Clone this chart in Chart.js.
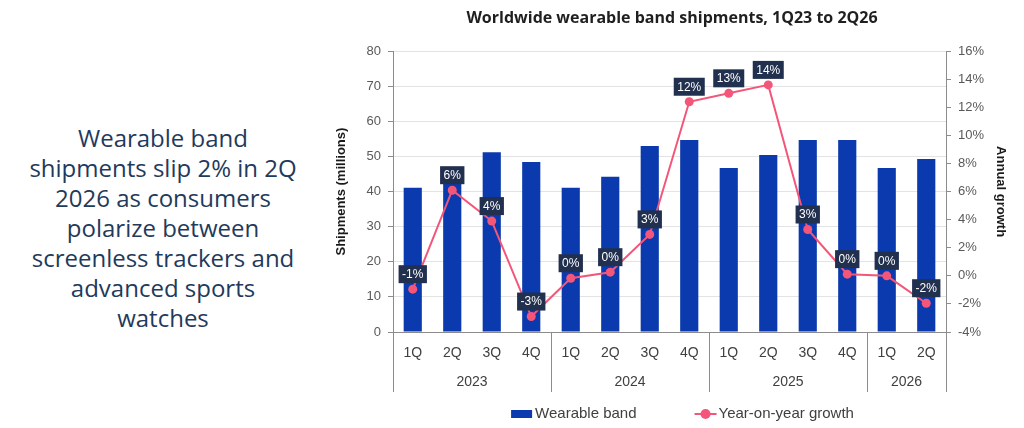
<!DOCTYPE html>
<html><head><meta charset="utf-8">
<script src="https://cdn.jsdelivr.net/npm/chart.js@4.4.1/dist/chart.umd.min.js"></script>
<style>
html,body{margin:0;padding:0;background:#fff;width:1024px;height:428px;overflow:hidden;}
#lead{position:absolute;left:8px;top:123px;width:310px;text-align:center;font-family:'Open Sans';font-size:24px;line-height:30px;color:#1f3a5c;}
#wrap{position:absolute;left:320px;top:0;width:704px;height:428px;}
</style></head><body>
<div id="lead">Wearable band<br>shipments slip 2% in 2Q<br>2026 as consumers<br>polarize between<br>screenless trackers and<br>advanced sports<br>watches</div>
<div id="wrap"><canvas id="c" width="704" height="428"></canvas></div>
<script>
const quarters = ['1Q','2Q','3Q','4Q','1Q','2Q','3Q','4Q','1Q','2Q','3Q','4Q','1Q','2Q'];
const years = ['2023','2024','2025','2026'];
const quartersPerYear = [4,4,4,2];
const shipments = [41.1,44.2,51.2,48.4,41.1,44.2,53.0,54.7,46.7,50.4,54.7,54.7,46.7,49.3];
const yoyGrowth = [-0.95,6.1,3.9,-2.9,-0.17,0.26,2.95,12.4,13.0,13.6,3.3,0.12,0.0,-1.95];

const BAR = '#0a3aad', LINE = '#f4567a', AXIS = '#8c8c8c';
const deco = {
  id:'deco',
  afterDatasetsDraw(chart){
    const ctx = chart.ctx;
    const meta = chart.getDatasetMeta(1);
    ctx.save();
    ctx.font = '12px "Liberation Sans"';
    ctx.textAlign = 'center'; ctx.textBaseline = 'middle';
    meta.data.forEach((pt,i)=>{
      const txt = Math.round(yoyGrowth[i]) + '%';
      const w = ctx.measureText(txt).width + 7, h = 18;
      const cx = pt.x, cy = pt.y - 15;
      ctx.fillStyle = '#22304f';
      ctx.fillRect(cx - w/2, cy - h/2, w, h);
      ctx.fillStyle = '#ffffff';
      ctx.fillText(txt, cx, cy + 0.5);
    });
    ctx.restore();
  },
  afterDraw(chart){
    const ctx = chart.ctx, xs = chart.scales.x, ca = chart.chartArea;
    ctx.save();
    let idx = 0;
    const bounds = [ca.left];
    quartersPerYear.forEach(n=>{
      idx += n;
      bounds.push(idx >= quarters.length ? ca.right : (xs.getPixelForValue(idx-1) + xs.getPixelForValue(idx)) / 2);
    });
    ctx.strokeStyle = AXIS; ctx.lineWidth = 1;
    bounds.forEach(b=>{
      const x = Math.round(b) + 0.5;
      ctx.beginPath(); ctx.moveTo(x, ca.bottom); ctx.lineTo(x, ca.bottom + 60); ctx.stroke();
    });
    ctx.font = '14px "Liberation Sans"'; ctx.fillStyle = '#404040';
    ctx.textAlign = 'center'; ctx.textBaseline = 'middle';
    years.forEach((y,i)=>{ ctx.fillText(y, (bounds[i] + bounds[i+1]) / 2, ca.bottom + 50); });
    // legend
    const ds = chart.data.datasets;
    ctx.font = '15px "Liberation Sans"';
    const t1 = ctx.measureText(ds[0].label).width, t2 = ctx.measureText(ds[1].label).width;
    const total = 21 + 3 + t1 + 58 + 22 + 2 + t2;
    let x = (ca.left + ca.right) / 2 + 13 - total / 2;
    const ly = 414;
    ctx.fillStyle = BAR; ctx.fillRect(x, ly - 4, 21, 8);
    x += 24; ctx.fillStyle = '#404040'; ctx.textAlign = 'left'; ctx.fillText(ds[0].label, x, ly);
    x += t1 + 58;
    ctx.strokeStyle = LINE; ctx.lineWidth = 2;
    ctx.beginPath(); ctx.moveTo(x, ly); ctx.lineTo(x + 22, ly); ctx.stroke();
    ctx.fillStyle = LINE; ctx.beginPath(); ctx.arc(x + 11, ly, 5, 0, Math.PI*2); ctx.fill();
    x += 24; ctx.fillStyle = '#404040'; ctx.fillText(ds[1].label, x, ly);
    ctx.restore();
  }
};

const tickFont = {family:'Liberation Sans', size:13};
const titleFont = {family:'Liberation Sans', size:13, weight:'bold'};
new Chart(document.getElementById('c'), {
  data:{labels:quarters, datasets:[
    {type:'bar', label:'Wearable band', data:shipments, backgroundColor:BAR, yAxisID:'y', order:2, barPercentage:0.46, categoryPercentage:1},
    {type:'line', label:'Year-on-year growth', data:yoyGrowth, borderColor:LINE, backgroundColor:LINE, borderWidth:2, pointRadius:4.5, pointBorderWidth:0, pointBackgroundColor:LINE, yAxisID:'y1', order:1, tension:0}
  ]},
  options:{
    responsive:false, animation:false,
    layout:{padding:0},
    plugins:{
      legend:{display:false}, tooltip:{enabled:false},
      title:{display:true, text:'Worldwide wearable band shipments, 1Q23 to 2Q26', font:{family:'Open Sans', size:16, weight:'bold'}, color:'#1f1f1f', padding:{top:9, bottom:23}}
    },
    scales:{
      x:{grid:{display:true, drawOnChartArea:false, drawTicks:false}, border:{color:AXIS},
         ticks:{font:{family:'Liberation Sans', size:14}, color:'#404040', padding:13, maxRotation:0, autoSkip:false},
         afterFit(s){ s.height = 96; }},
      y:{position:'left', min:0, max:80,
         ticks:{stepSize:10, font:tickFont, color:'#595959', padding:7},
         grid:{color:'#e3e3e3', tickColor:AXIS, tickLength:5}, border:{color:AXIS},
         title:{display:true, text:'Shipments (millions)', font:titleFont, color:'#1a1a1a', padding:{top:14, bottom:0}},
         afterFit(s){ s.width = 73; }},
      y1:{position:'right', min:-4, max:16,
         ticks:{stepSize:2, font:tickFont, color:'#595959', padding:7, callback:v=>v+'%'},
         grid:{drawOnChartArea:false, tickColor:AXIS, tickLength:5}, border:{color:AXIS},
         title:{display:true, text:'Annual growth', font:titleFont, color:'#1a1a1a', padding:{top:16, bottom:0}},
         afterFit(s){ s.width = 78; }}
    }
  },
  plugins:[deco]
});
</script>
</body></html>
